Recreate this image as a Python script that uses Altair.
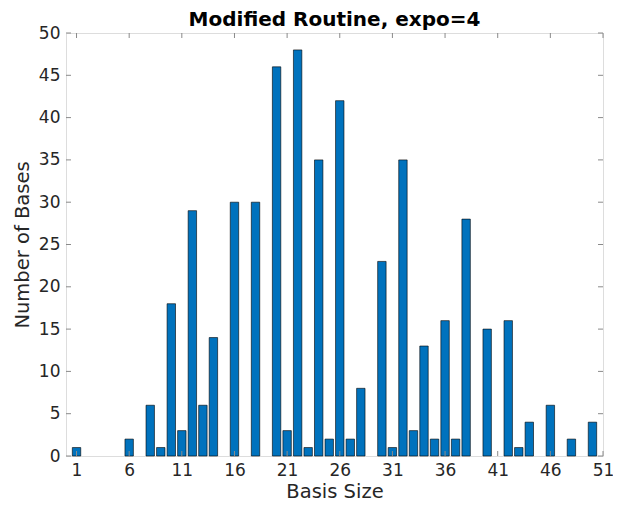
import altair as alt
import pandas as pd

# Data
basis_size = list(range(1, 52))
num_bases = [1, 0, 0, 0, 0, 2, 0, 6, 1, 18,
             3, 29, 6, 14, 0, 30, 0, 30, 0, 46,
             3, 48, 1, 35, 2, 42, 2, 8, 0, 23,
             1, 35, 3, 13, 2, 16, 2, 28, 0, 15,
             0, 16, 1, 4, 0, 6, 0, 2, 0, 4,
             0]
x_ticks = [1, 6, 11, 16, 21, 26, 31, 36, 41, 46, 51]
y_ticks = [0, 5, 10, 15, 20, 25, 30, 35, 40, 45, 50]

W, H = 537, 423
FONT = "DejaVu Sans"
TXT = "#262626"
BOX = "#8a8a8a"

df = pd.DataFrame({"size": basis_size, "count": num_bases})
df = df[df["count"] > 0]
xt = pd.DataFrame({"t": x_ticks})
yt = pd.DataFrame({"t": y_ticks})

xscale = alt.Scale(domain=[0, 51], nice=False, zero=False)
yscale = alt.Scale(domain=[0, 50], nice=False)

xaxis = alt.Axis(values=x_ticks, title="Basis Size", grid=False, ticks=False, domain=False,
                 labelFontSize=17, labelColor=TXT, labelFont=FONT, labelPadding=6,
                 titleFontSize=19.5, titleFontWeight="normal", titleColor=TXT, titleFont=FONT,
                 titlePadding=4, labelFlush=False)
yaxis = alt.Axis(values=y_ticks, title="Number of Bases", grid=False, ticks=False, domain=False,
                 labelFontSize=17, labelColor=TXT, labelFont=FONT, labelPadding=6,
                 titleFontSize=19.5, titleFontWeight="normal", titleColor=TXT, titleFont=FONT,
                 titlePadding=6, labelFlush=False)

bars = alt.Chart(df).transform_calculate(
    x0="datum.size - 0.4", x1="datum.size + 0.4"
).mark_bar(fill="#0072BD", stroke="#000000", strokeWidth=0.6).encode(
    x=alt.X("x0:Q", scale=xscale, axis=xaxis),
    x2="x1:Q",
    y=alt.Y("count:Q", scale=yscale, axis=yaxis),
    y2=alt.datum(0),
)

tick_len = 5
xb = alt.Chart(xt).mark_rule(color=BOX, strokeWidth=1).encode(
    x=alt.X("t:Q", scale=xscale), y=alt.value(H), y2=alt.value(H - tick_len))
xtop = alt.Chart(xt).mark_rule(color=BOX, strokeWidth=1).encode(
    x=alt.X("t:Q", scale=xscale), y=alt.value(0), y2=alt.value(tick_len))
yl = alt.Chart(yt).mark_rule(color=BOX, strokeWidth=1).encode(
    y=alt.Y("t:Q", scale=yscale), x=alt.value(0), x2=alt.value(tick_len))
yr = alt.Chart(yt).mark_rule(color=BOX, strokeWidth=1).encode(
    y=alt.Y("t:Q", scale=yscale), x=alt.value(W), x2=alt.value(W - tick_len))

chart = alt.layer(bars, xb, xtop, yl, yr).properties(
    width=W, height=H,
    title=alt.TitleParams("Modified Routine, expo=4", font=FONT, fontSize=20,
                          fontWeight="bold", color="#000000", offset=-6, anchor="middle"),
    autosize=alt.AutoSizeParams(type="none"),
    padding={"left": 58, "top": 25, "right": 10, "bottom": 46},
).configure_view(stroke=BOX, strokeWidth=1).configure(background="white")

chart.save("out.html", embed_options={"renderer": "svg", "actions": False})
